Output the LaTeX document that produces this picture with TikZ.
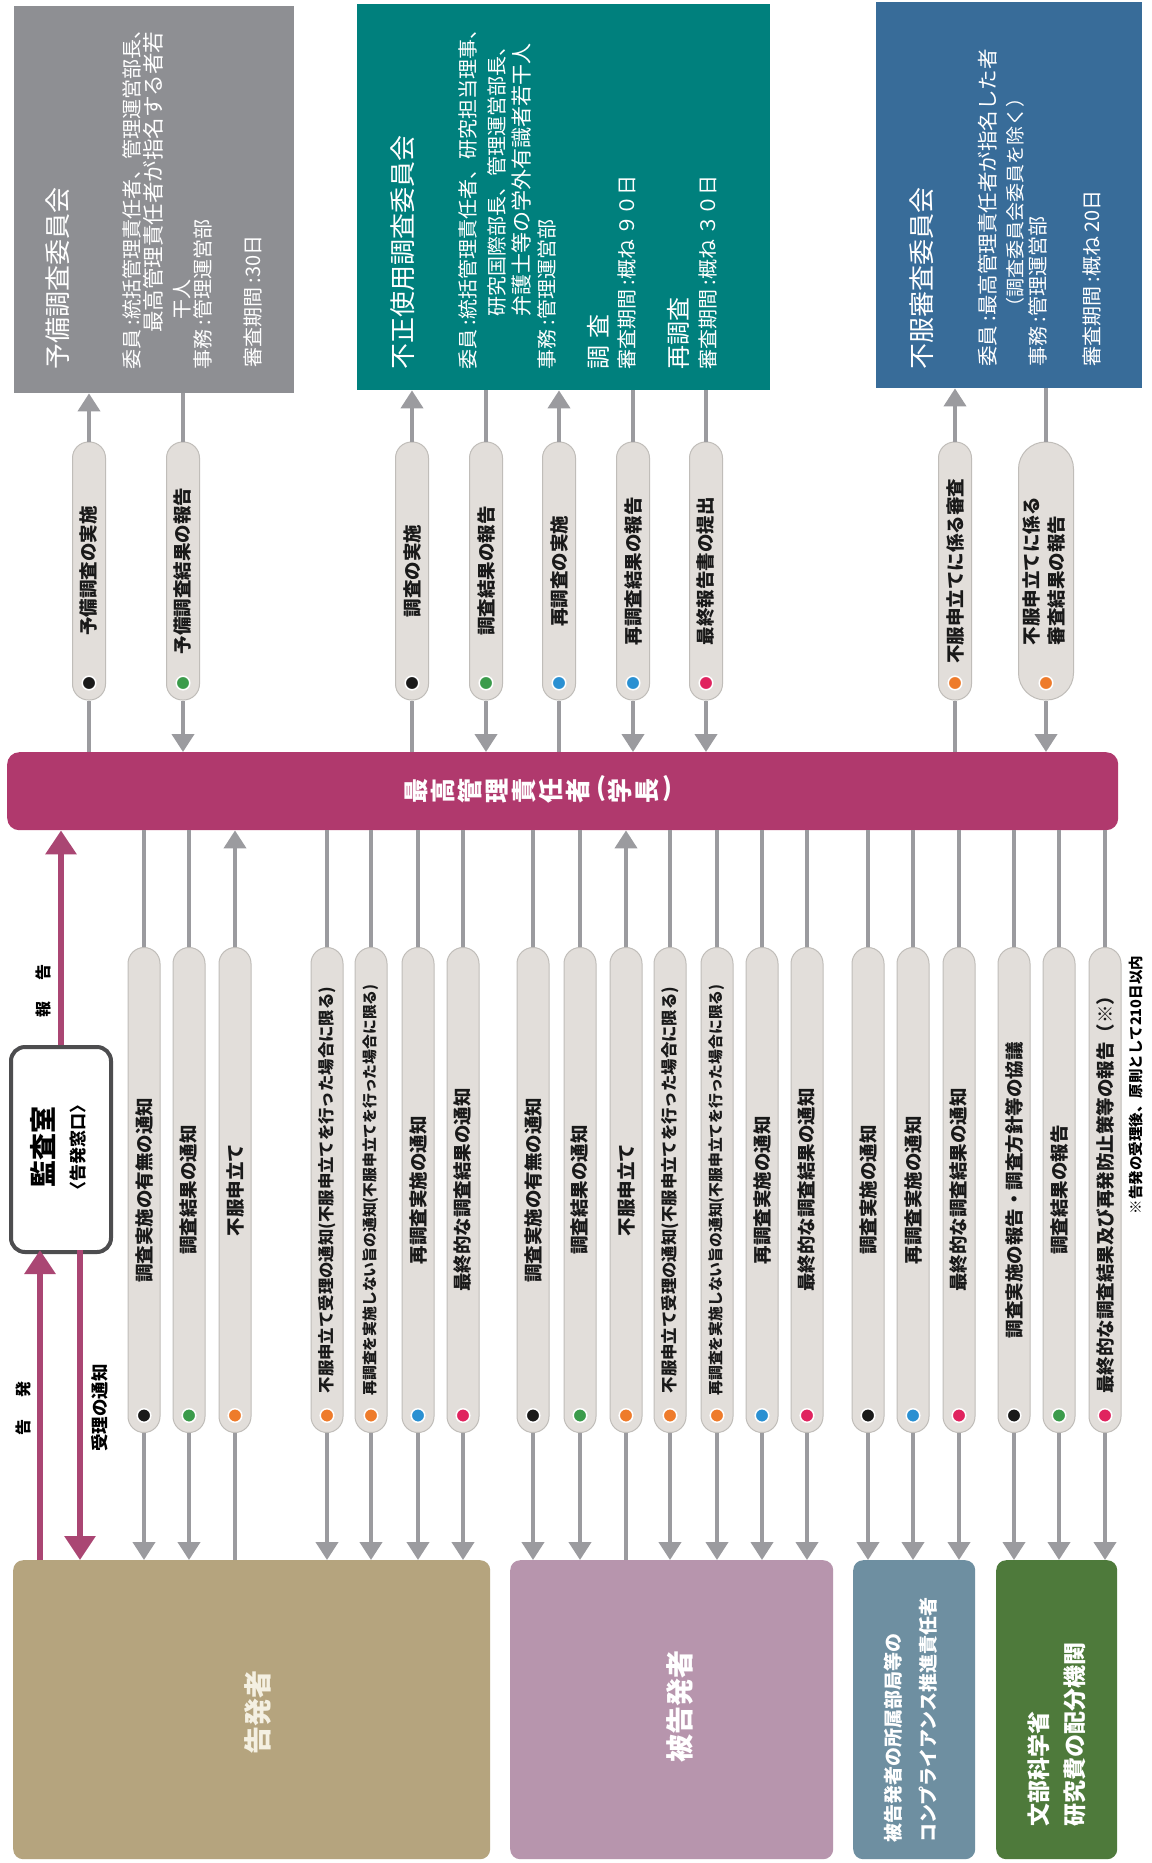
\documentclass[tikz,border=0pt]{standalone}
\usepackage{fontspec}
\setmainfont{Noto Sans CJK JP}
\usepackage{graphicx}
\usetikzlibrary{arrows.meta}

\definecolor{yobigray}{HTML}{8E8F93}
\definecolor{fuseiteal}{HTML}{00807D}
\definecolor{fufukublue}{HTML}{386C99}
\definecolor{barmag}{HTML}{B0396D}
\definecolor{marrowc}{HTML}{AA4673}
\definecolor{kokutan}{HTML}{B5A47E}
\definecolor{hikokumauve}{HTML}{B795AD}
\definecolor{compblue}{HTML}{6E8FA1}
\definecolor{mextgreen}{HTML}{4E7A3B}
\definecolor{pillgray}{HTML}{E2DEDA}
\definecolor{linegray}{HTML}{9B9B9F}
\definecolor{kansaline}{HTML}{4D4D4F}
\definecolor{dotblack}{HTML}{1A1A1A}
\definecolor{dotgreen}{HTML}{3B9B4B}
\definecolor{dotblue}{HTML}{2A90D2}
\definecolor{dotorange}{HTML}{EE7B2B}
\definecolor{dotred}{HTML}{E0245F}
\definecolor{boxcream}{HTML}{F4F0E2}

\tikzset{
  cbox/.style={rectangle, inner sep=0pt, anchor=north west},
  boxtext/.style={rotate=90, anchor=west, inner sep=0pt, text=white, font=\fontsize{20}{24}\selectfont},
  boxtitle/.style={boxtext, font=\fontsize{26}{30}\selectfont},
  upill/.style={rectangle, rounded corners=16pt, fill=pillgray, draw=pillgray!85!black, line width=1pt,
    minimum width=33pt, minimum height=258pt, inner sep=0pt, text=black!90,
    font=\fontsize{18.5}{25}\selectfont\bfseries,
    path picture={\fill[#1, draw=white, line width=1.5pt] ([yshift=17pt]path picture bounding box.south) circle (6.8pt);}},
  lpill/.style={upill=#1, minimum width=32pt, minimum height=485pt},
  bartext/.style={text=white, inner sep=0pt, font=\fontsize{25}{25}\selectfont\bfseries},
  bigtext/.style={rotate=90, inner sep=0pt, text=white, font=\fontsize{28}{28}\selectfont\bfseries},
  lbl/.style={rotate=90, inner sep=0pt, font=\fontsize{16}{16}\selectfont\bfseries},
  conn/.style={draw=linegray, line width=4pt},
  arr/.style={conn, -{Triangle[width=22pt,length=18pt]}},
  marr/.style={draw=marrowc, line width=6pt, -{Triangle[width=30pt,length=24pt]}}
}

\begin{document}
\begin{tikzpicture}[x=1pt,y=1pt]
\useasboundingbox[fill=white] (0,0) rectangle (1151,-1863);

% committees
\node[cbox, fill=yobigray, minimum width=280pt, minimum height=387pt] (yobi) at (14,-6) {};
\node[boxtitle] (yobi0) at (58,-370) {予備調査委員会};
\node[boxtext] (yobi1) at (132,-370) {委員 :統括管理責任者、管理運営部長、};
\node[boxtext, font=\fontsize{21.5}{24}\selectfont] (yobi2) at (153,-333) {最高管理責任者が指名する者若};
\node[boxtext] (yobi3) at (182,-320) {干人};
\node[boxtext] (yobi4) at (203,-370) {事務 :管理運営部};
\node[boxtext] (yobi5) at (253,-368) {審査期間 :30日};

\node[cbox, fill=fuseiteal, minimum width=413pt, minimum height=386pt] (fusei) at (357,-4) {};
\node[boxtitle] (fusei0) at (403,-370) {不正使用調査委員会};
\node[boxtext] (fusei1) at (468,-370) {委員 :統括管理責任者、研究担当理事、};
\node[boxtext] (fusei2) at (497,-317) {研究国際部長、管理運営部長、};
\node[boxtext, font=\fontsize{21}{24}\selectfont] (fusei3) at (522,-317) {弁護士等の学外有識者若干人};
\node[boxtext] (fusei4) at (547,-370) {事務 :管理運営部};
\node[boxtext, font=\fontsize{24}{24}\selectfont] (fusei5) at (598,-370) {調\hspace{7pt}査};
\node[boxtext] (fusei6) at (627,-370) {審査期間 :概ね ９０日};
\node[boxtext, font=\fontsize{24}{24}\selectfont] (fusei7) at (678,-370) {再調査};
\node[boxtext] (fusei8) at (708,-370) {審査期間 :概ね ３０日};

\node[cbox, fill=fufukublue, minimum width=266pt, minimum height=386pt] (fufuku) at (876,-2) {};
\node[boxtitle] (fufuku0) at (922,-370) {不服審査委員会};
\node[boxtext, font=\fontsize{20.5}{24}\selectfont] (fufuku1) at (988,-367) {委員 :最高管理責任者が指名した者};
\node[boxtext, font=\fontsize{19}{24}\selectfont] (fufuku2) at (1015,-317) {（調査委員会委員を除く）};
\node[boxtext] (fufuku3) at (1038,-367) {事務 :管理運営部};
\node[boxtext] (fufuku4) at (1092,-367) {審査期間 :概ね 20日};

% president
\node[cbox, fill=barmag, rounded corners=12pt, minimum width=1111pt, minimum height=78pt] (bar) at (7,-752) {};
\foreach \c/\x [count=\i] in {最/416,高/443,管/470,理/497,責/524,任/551,者/578,学/620,長/647}
  \node[bartext, rotate=90] (bt\i) at (\x,-791) {\c};
\node[bartext] (btl) at (601,-789) {(};
\node[bartext] (btr) at (667,-789) {)};

% upper pills
\node[upill=dotblack] (u1) at (89,-571) {\rotatebox{90}{予備調査の実施}};
\node[upill=dotgreen] (u2) at (183,-571) {\rotatebox{90}{予備調査結果の報告}};
\node[upill=dotblack] (u3) at (412,-571) {\rotatebox{90}{調査の実施}};
\node[upill=dotgreen] (u4) at (486,-571) {\rotatebox{90}{調査結果の報告}};
\node[upill=dotblue] (u5) at (559,-571) {\rotatebox{90}{再調査の実施}};
\node[upill=dotblue] (u6) at (633,-571) {\rotatebox{90}{再調査結果の報告}};
\node[upill=dotred] (u7) at (706,-571) {\rotatebox{90}{最終報告書の提出}};
\node[upill=dotorange] (u8) at (955,-571) {\rotatebox{90}{不服申立てに係る審査}};
\node[upill=dotorange, minimum width=55pt, rounded corners=27pt] (u9) at (1046,-571)
  {\rotatebox{90}{\begin{tabular}{@{}l@{}}不服申立てに係る\\審査結果の報告\end{tabular}}};

\foreach \p/\b in {u1/yobi,u3/fusei,u5/fusei,u8/fufuku} {
  \draw[conn] (\p.south) -- (\p.south |- bar.north);
  \draw[arr] (\p.north) -- (\p.north |- \b.south);
}
\foreach \p/\b in {u2/yobi,u4/fusei,u6/fusei,u7/fusei,u9/fufuku} {
  \draw[conn] (\p.north |- \b.south) -- (\p.north);
  \draw[arr] (\p.south) -- (\p.south |- bar.north);
}

% lower pills
\node[lpill=dotblack] (a1) at (144,-1190) {\rotatebox{90}{調査実施の有無の通知}};
\node[lpill=dotgreen] (a2) at (189,-1190) {\rotatebox{90}{調査結果の通知}};
\node[lpill=dotorange] (a3) at (235,-1190) {\rotatebox{90}{不服申立て}};
\node[lpill=dotorange, font=\fontsize{16.4}{19}\selectfont\bfseries] (a4) at (327,-1190) {\rotatebox{90}{不服申立て受理の通知(不服申立てを行った場合に限る)}};
\node[lpill=dotorange, font=\fontsize{14.8}{19}\selectfont\bfseries] (a5) at (371,-1190) {\rotatebox{90}{再調査を実施しない旨の通知(不服申立てを行った場合に限る)}};
\node[lpill=dotblue] (a6) at (418,-1190) {\rotatebox{90}{再調査実施の通知}};
\node[lpill=dotred] (a7) at (463,-1190) {\rotatebox{90}{最終的な調査結果の通知}};

\node[lpill=dotblack] (b1) at (533,-1190) {\rotatebox{90}{調査実施の有無の通知}};
\node[lpill=dotgreen] (b2) at (580,-1190) {\rotatebox{90}{調査結果の通知}};
\node[lpill=dotorange] (b3) at (626,-1190) {\rotatebox{90}{不服申立て}};
\node[lpill=dotorange, font=\fontsize{16.4}{19}\selectfont\bfseries] (b4) at (670,-1190) {\rotatebox{90}{不服申立て受理の通知(不服申立てを行った場合に限る)}};
\node[lpill=dotorange, font=\fontsize{14.8}{19}\selectfont\bfseries] (b5) at (717,-1190) {\rotatebox{90}{再調査を実施しない旨の通知(不服申立てを行った場合に限る)}};
\node[lpill=dotblue] (b6) at (762,-1190) {\rotatebox{90}{再調査実施の通知}};
\node[lpill=dotred] (b7) at (807,-1190) {\rotatebox{90}{最終的な調査結果の通知}};

\node[lpill=dotblack] (c1) at (868,-1190) {\rotatebox{90}{調査実施の通知}};
\node[lpill=dotblue] (c2) at (913,-1190) {\rotatebox{90}{再調査実施の通知}};
\node[lpill=dotred] (c3) at (959,-1190) {\rotatebox{90}{最終的な調査結果の通知}};

\node[lpill=dotblack] (d1) at (1014,-1190) {\rotatebox{90}{調査実施の報告・調査方針等の協議}};
\node[lpill=dotgreen] (d2) at (1059,-1190) {\rotatebox{90}{調査結果の報告}};
\node[lpill=dotred] (d3) at (1105,-1190) {\rotatebox{90}{最終的な調査結果及び再発防止策等の報告（※）}};
\node[lbl, font=\fontsize{14.5}{14}\selectfont\bfseries] (note) at (1136,-1085) {※告発の受理後、原則として210日以内};

% parties
\node[cbox, fill=kokutan, rounded corners=10pt, minimum width=477pt, minimum height=299pt] (kok) at (13,-1560) {};
\node[bigtext, text=boxcream] (kokt) at (258,-1712) {告発者};
\node[cbox, fill=hikokumauve, rounded corners=10pt, minimum width=323pt, minimum height=299pt] (hikoku) at (510,-1560) {};
\node[bigtext] (hikokut) at (680,-1706) {被告発者};
\node[cbox, fill=compblue, rounded corners=10pt, minimum width=122pt, minimum height=299pt] (comp) at (853,-1560) {};
\node[boxtext, font=\fontsize{19}{24}\selectfont\bfseries] (comp1) at (893,-1843) {被告発者の所属部局等の};
\node[boxtext, font=\fontsize{19}{24}\selectfont\bfseries] (comp2) at (928,-1843) {コンプライアンス推進責任者};
\node[cbox, fill=mextgreen, rounded corners=10pt, minimum width=121pt, minimum height=299pt] (mext) at (996,-1560) {};
\node[boxtext, font=\fontsize{23}{24}\selectfont\bfseries] (mext1) at (1039,-1827) {文部科学省};
\node[boxtext, font=\fontsize{23}{24}\selectfont\bfseries] (mext2) at (1075,-1827) {研究費の配分機関};

\foreach \p/\b in {a1/kok,a2/kok,a4/kok,a5/kok,a6/kok,a7/kok,b1/hikoku,b2/hikoku,b4/hikoku,b5/hikoku,b6/hikoku,b7/hikoku,c1/comp,c2/comp,c3/comp,d1/mext,d2/mext,d3/mext} {
  \draw[conn] (\p.north |- bar.south) -- (\p.north);
  \draw[arr] (\p.south) -- (\p.south |- \b.north);
}
\foreach \p/\b in {a3/kok,b3/hikoku} {
  \draw[arr] (\p.north) -- (\p.north |- bar.south);
  \draw[conn] (\p.south |- \b.north) -- (\p.south);
}

% audit office
\node[cbox, fill=white, draw=kansaline, line width=4pt, rounded corners=14pt, minimum width=100pt, minimum height=205pt] (kansa) at (9,-1045) {};
\node[rotate=90, inner sep=0pt, font=\fontsize{27}{27}\selectfont\bfseries] (kansa1) at (43,-1147) {監査室};
\node[rotate=90, inner sep=0pt, font=\fontsize{17}{17}\selectfont\bfseries] (kansa2) at (78,-1147) {〈告発窓口〉};
\coordinate (kb1) at (40,-1250);
\coordinate (kb2) at (80,-1250);
\draw[marr] (kansa.north) -- (kansa.north |- bar.south);
\draw[marr] (kb1 |- kok.north) -- (kb1);
\draw[marr] (kb2) -- (kb2 |- kok.north);
\node[lbl] (hokoku) at (43,-991) {報\hspace{21pt}告};
\node[lbl] (kokuhatsu) at (23,-1408) {告\hspace{22pt}発};
\node[lbl, font=\fontsize{17.5}{17}\selectfont\bfseries] (juri) at (100,-1408) {受理の通知};
\end{tikzpicture}
\end{document}
